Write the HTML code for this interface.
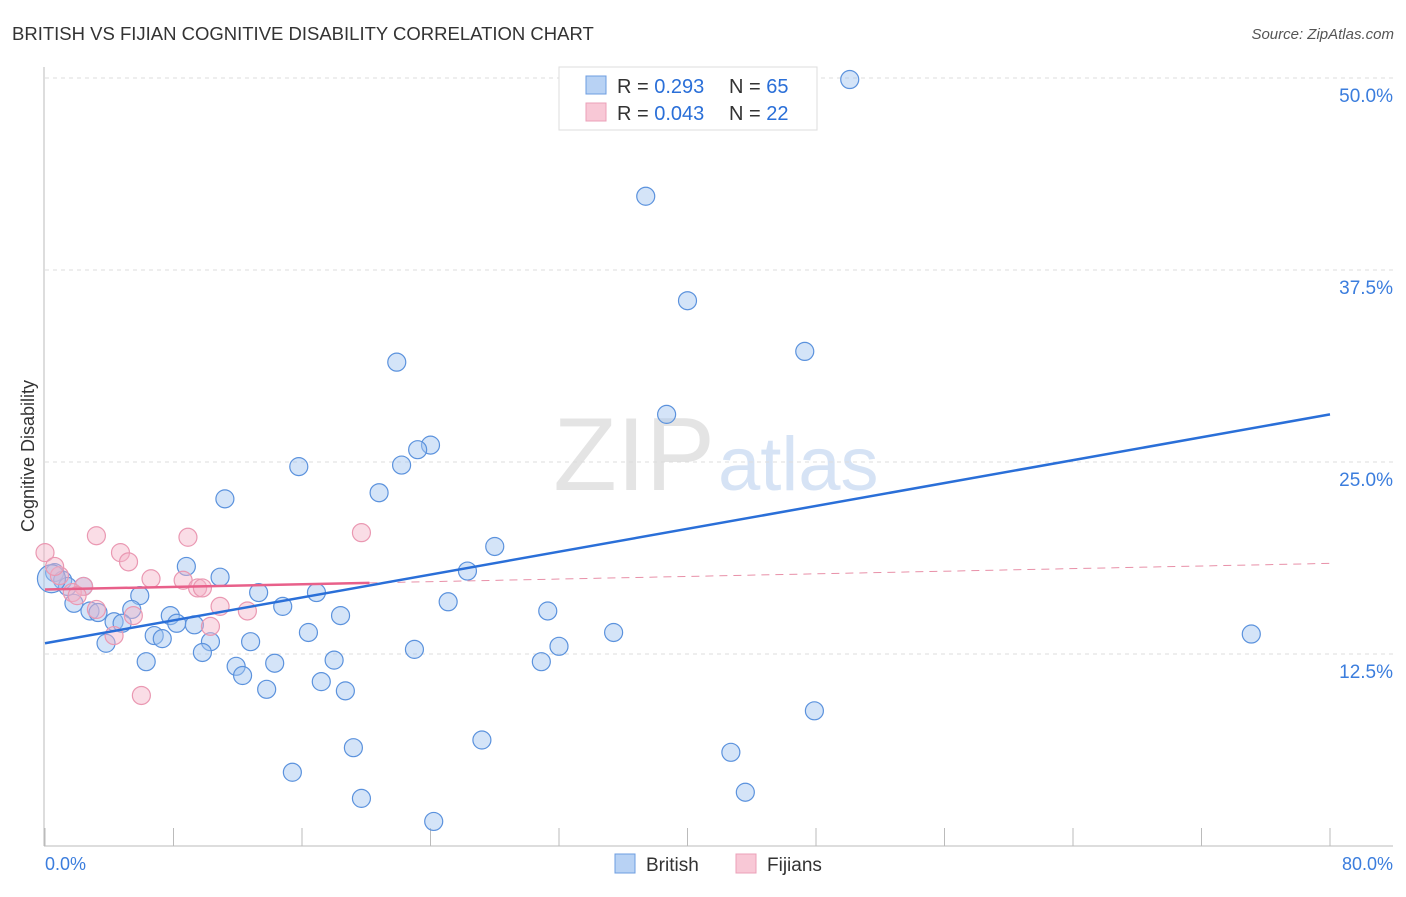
<!DOCTYPE html>
<html><head><meta charset="utf-8"><style>
body{margin:0;background:#fff;font-family:"Liberation Sans",sans-serif}
svg text{font-family:"Liberation Sans",sans-serif}
</style></head><body>
<svg id="c" width="1406" height="892">
<text x="12" y="40" font-size="18.5" fill="#333">BRITISH VS FIJIAN COGNITIVE DISABILITY CORRELATION CHART</text>
<text x="1394" y="39" font-size="15" fill="#555" font-style="italic" text-anchor="end">Source: ZipAtlas.com</text>
<text x="715" y="490" font-size="104" fill="#e4e4e4" text-anchor="end" font-family="Liberation Serif,serif">ZIP</text>
<text x="718" y="490" font-size="76" fill="#d6e3f5">atlas</text>
<text transform="translate(34,456) rotate(-90)" font-size="18" fill="#333" text-anchor="middle">Cognitive Disability</text>
<g id="grid"></g><g id="marks"></g>
<g>
<rect x="559" y="67" width="258" height="63" fill="#fff" stroke="#ddd"/>
<rect x="586" y="76" width="20" height="18" fill="#b8d2f4" stroke="#6d9de0"/>
<rect x="586" y="103" width="20" height="18" fill="#f8c8d6" stroke="#eba0b8"/>
<text x="617" y="93" font-size="20" fill="#333">R = <tspan fill="#2a6fd8">0.293</tspan></text>
<text x="729" y="93" font-size="20" fill="#333">N = <tspan fill="#2a6fd8">65</tspan></text>
<text x="617" y="120" font-size="20" fill="#333">R = <tspan fill="#2a6fd8">0.043</tspan></text>
<text x="729" y="120" font-size="20" fill="#333">N = <tspan fill="#2a6fd8">22</tspan></text>
</g>
<g>
<rect x="615" y="854" width="20" height="19" fill="#b8d2f4" stroke="#6d9de0"/>
<text x="646" y="871" font-size="19" fill="#333">British</text>
<rect x="736" y="854" width="20" height="19" fill="#f8c8d6" stroke="#eba0b8"/>
<text x="767" y="871" font-size="19" fill="#333">Fijians</text>
</g>
</svg>
<script>
const yTicks=[12.5,25,37.5,50];
const yTickLabels=["12.5%","25.0%","37.5%","50.0%"];
const xTickLabels=["0.0%","80.0%"];
const britX=[50.1,37.4,40.0,47.3,21.9,38.7,24.0,23.2,22.2,15.8,20.8,11.2,28.0,8.8,26.3,10.9,0.6,1.1,1.4,2.4,13.3,16.9,5.9,1.8,25.1,14.8,2.8,3.3,5.4,31.3,7.8,18.4,4.3,4.8,8.2,9.3,16.4,6.8,7.3,35.4,75.1,10.3,12.8,3.8,32.0,23.0,9.8,6.3,18.0,30.9,14.3,11.9,12.3,17.2,13.8,18.7,47.9,27.2,19.2,42.7,15.4,43.6,19.7,24.2,0.4];
const britY=[49.9,42.3,35.5,32.2,31.5,28.1,26.1,25.8,24.8,24.7,23.0,22.6,19.5,18.2,17.9,17.5,17.8,17.3,16.9,16.9,16.5,16.5,16.3,15.8,15.9,15.6,15.3,15.2,15.4,15.3,15.0,15.0,14.6,14.5,14.5,14.4,13.9,13.7,13.5,13.9,13.8,13.3,13.3,13.2,13.0,12.8,12.6,12.0,12.1,12.0,11.9,11.7,11.1,10.7,10.2,10.1,8.8,6.9,6.4,6.1,4.8,3.5,3.1,1.6,17.4];
const fijX=[0.0,3.2,4.7,5.2,8.9,19.7,6.6,8.6,9.5,9.8,2.4,0.9,0.6,1.7,3.2,5.5,10.9,12.6,10.3,4.3,6.0,2.0];
const fijY=[19.1,20.2,19.1,18.5,20.1,20.4,17.4,17.3,16.8,16.8,16.9,17.6,18.2,16.5,15.4,15.0,15.6,15.3,14.3,13.7,9.8,16.3];
const britTrend=[13.2,28.1];
const fijTrend=[16.7,18.4];
const fijSolidEnd=20.2;
const X=v=>45+v/80*1285, Y=v=>846-v/12.5*192;
const NS="http://www.w3.org/2000/svg";
const grid=document.getElementById('grid'), marks=document.getElementById('marks');
function mk(tag,attrs,parent){const e=document.createElementNS(NS,tag);for(const k in attrs)e.setAttribute(k,attrs[k]);parent.appendChild(e);return e;}
yTicks.forEach((t,i)=>{
 const l=mk('line',{x1:45,x2:1393,y1:Y(t),y2:Y(t),stroke:'#ddd','stroke-dasharray':'4 4'},grid);
 
 
 const tx=mk('text',{x:1393,y:Y(t)+24,'font-size':19,fill:'#3b7ddd','text-anchor':'end'},grid);
 tx.textContent=yTickLabels[i];
 
 
});
for(let i=0;i<=10;i++){
 const l=mk('line',{x1:X(i*8),x2:X(i*8),y1:828,y2:846,stroke:'#bbb'},grid);
 
 
}
const ax=mk('line',{x1:44,x2:44,y1:67,y2:846,stroke:'#bbb'},grid);


const bx=mk('line',{x1:44,x2:1393,y1:846,y2:846,stroke:'#bbb'},grid);


[[45,'start',0],[1393,'end',1]].forEach(([x,a,i])=>{
 const t=mk('text',{x:x,y:870,'font-size':18,fill:'#3b7ddd','text-anchor':a},grid);
 t.textContent=xTickLabels[i];
 
 
});
britX.forEach((v,i)=>{
 const c=mk('circle',{cx:X(v),cy:Y(britY[i]),r:i==britX.length-1?14:9,fill:'rgba(160,195,240,0.45)',stroke:'#5b92dd','stroke-width':1.2},marks);
 
 
});
fijX.forEach((v,i)=>{
 const c=mk('circle',{cx:X(v),cy:Y(fijY[i]),r:9,fill:'rgba(245,180,200,0.45)',stroke:'#ea98b2','stroke-width':1.2},marks);
 
 
});
const fy=x=>fijTrend[0]+(fijTrend[1]-fijTrend[0])*x/80;
const fd=mk('line',{x1:X(fijSolidEnd),y1:Y(fy(fijSolidEnd)),x2:X(80),y2:Y(fijTrend[1]),stroke:'#e890a8','stroke-width':1,'stroke-dasharray':'8 6'},marks);


const fl=mk('line',{x1:X(0),y1:Y(fijTrend[0]),x2:X(fijSolidEnd),y2:Y(fy(fijSolidEnd)),stroke:'#e8608a','stroke-width':2.5},marks);


const bl=mk('line',{x1:X(0),y1:Y(britTrend[0]),x2:X(80),y2:Y(britTrend[1]),stroke:'#2a6fd8','stroke-width':2.5},marks);


</script>
</body></html>
